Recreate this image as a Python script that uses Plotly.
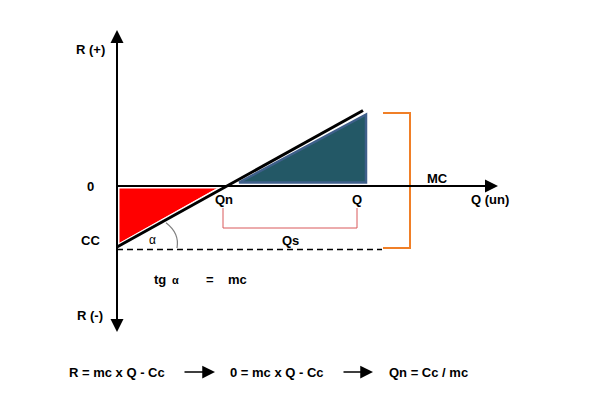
import math
import plotly.graph_objects as go

# --- data (chart units: 1 unit = 10 px) ---
CC = -6.1          # fixed cost (R at Q = 0)
mc = 0.555         # contribution margin per unit (slope)
Q_end = 24.6       # quantity at end of drawn line
Qn = -CC / mc      # break-even quantity
R_end = mc * Q_end + CC

line_x = [0, Q_end]
line_y = [CC, R_end]

red_x = [0.2, Qn - 0.9, 0.2, 0.2]
red_y = [-0.2, -0.2, CC + 0.35, -0.2]

blue_x = [Qn + 1.2, Q_end + 0.3, Q_end + 0.3, Qn + 1.2]
blue_y = [0.35, R_end - 0.4, 0.35, 0.35]

dash_x = [0, 26.5]
dash_y = [CC - 0.25, CC - 0.25]

orange_x = [26.6, 29.3, 29.3, 26.6]
orange_y = [7.3, 7.3, -6.2, -6.2]

qs_x = [10.6, 10.6, 24.0, 24.0]
qs_y = [-2.2, -4.2, -4.2, -2.2]

FONT = "Liberation Sans, Arial, sans-serif"

fig = go.Figure()

fig.add_trace(go.Scatter(x=red_x, y=red_y, fill="toself", fillcolor="#ff0000",
                         mode="lines", line=dict(color="#ffffff", width=1),
                         hoverinfo="skip"))
fig.add_trace(go.Scatter(x=blue_x, y=blue_y, fill="toself", fillcolor="#235866",
                         mode="lines", line=dict(color="#3e5f8a", width=2.5),
                         hoverinfo="skip"))
fig.add_trace(go.Scatter(x=dash_x, y=dash_y, mode="lines",
                         line=dict(color="#000000", width=1.5, dash="6px,4px"),
                         hoverinfo="skip"))
fig.add_trace(go.Scatter(x=orange_x, y=orange_y, mode="lines",
                         line=dict(color="#f07f27", width=2), hoverinfo="skip"))
fig.add_trace(go.Scatter(x=qs_x, y=qs_y, mode="lines",
                         line=dict(color="#d9585a", width=1), hoverinfo="skip"))
# horizontal axis
fig.add_trace(go.Scatter(x=[0, 37.5], y=[0, 0], mode="lines",
                         line=dict(color="#000000", width=2), hoverinfo="skip"))
# vertical axis
fig.add_trace(go.Scatter(x=[0, 0], y=[-14.0, 15.0], mode="lines",
                         line=dict(color="#000000", width=2), hoverinfo="skip"))
# R line
fig.add_trace(go.Scatter(x=line_x, y=line_y, mode="lines",
                         line=dict(color="#000000", width=3), hoverinfo="skip"))

# angle arc (quadratic bezier)
r = 5.6
ang = math.atan(mc)
p1 = (r * math.cos(ang), CC + r * math.sin(ang) - 0.3)
p2 = (r + 0.4, CC - 0.1)
ctrl = (r * 1.12, CC + r * math.sin(ang) * 0.5)
fig.add_shape(type="path",
              path=f"M {p1[0]},{p1[1]} Q {ctrl[0]},{ctrl[1]} {p2[0]},{p2[1]}",
              xref="x", yref="y", line=dict(color="#808080", width=1.2))

def arrow(x, y, ax, ay, width=2, size=1.3):
    fig.add_annotation(x=x, y=y, ax=ax, ay=ay, xref="x", yref="y",
                       axref="x", ayref="y", text="", showarrow=True,
                       arrowhead=2, arrowsize=size, arrowwidth=width,
                       arrowcolor="#000000", standoff=0)

arrow(0, 15.6, 0, 14.0)
arrow(0, -14.6, 0, -13.0)
arrow(38.1, 0, 36.5, 0)
arrow(9.8, -18.6, 6.6, -18.6, width=1.5, size=1.7)
arrow(25.6, -18.6, 22.5, -18.6, width=1.5, size=1.7)

def label(txt, x, y, size=13, bold=True, color="#000000"):
    t = f"<b>{txt}</b>" if bold else txt
    fig.add_annotation(x=x, y=y, xref="x", yref="y", text=t, showarrow=False,
                       font=dict(family=FONT, size=size, color=color),
                       xanchor="center", yanchor="middle")

label("R (+)", -2.7, 13.7)
label("0", -2.7, 0.0)
label("CC", -2.7, -5.4)
label("R (-)", -2.7, -12.9)
label("Qn", 10.7, -1.3)
label("Q", 24.0, -1.3)
label("Qs", 17.3, -5.4)
label("MC", 32.0, 0.8)
label("Q (un)", 37.3, -1.3)
label("α", 3.5, -5.4, size=12, bold=False)
label("tg", 4.3, -9.3)
label("α", 5.8, -9.4, size=11)
label("=", 9.3, -9.3)
label("mc", 12.0, -9.3)
label("R = mc x Q - Cc", 0.0, -18.6)
label("0 = mc x Q - Cc", 16.0, -18.6)
label("Qn = Cc / mc", 31.1, -18.6)

fig.update_layout(
    width=606, height=405,
    margin=dict(l=0, r=0, t=0, b=0),
    paper_bgcolor="#ffffff", plot_bgcolor="#ffffff",
    showlegend=False,
    xaxis=dict(range=[-11.7, 48.9], visible=False, fixedrange=True),
    yaxis=dict(range=[-21.9, 18.6], visible=False, fixedrange=True),
)

fig.write_html("out.html",
               config={"displayModeBar": False, "staticPlot": True},
               post_script="document.body.style.margin='0';document.body.style.overflow='hidden';")
